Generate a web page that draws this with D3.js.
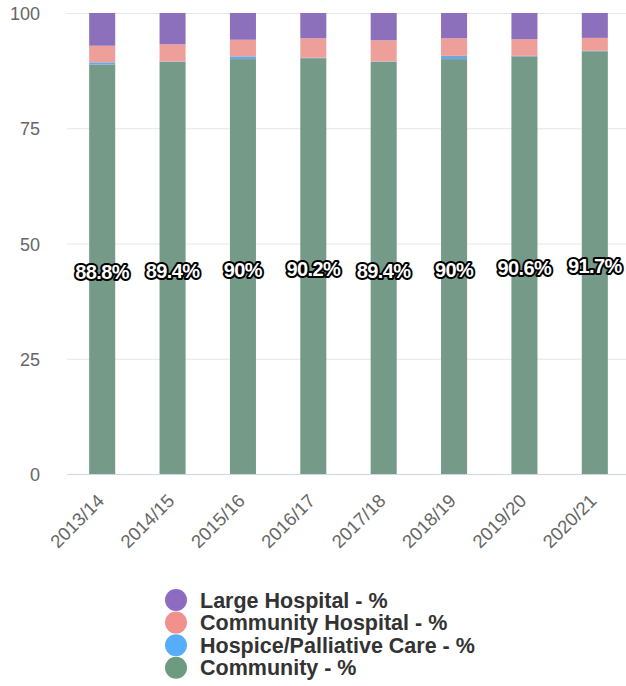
<!DOCTYPE html>
<html><head><meta charset="utf-8">
<script src="https://cdn.jsdelivr.net/npm/d3@7"></script>
<style>body{margin:0;background:#fff;}svg{display:block;font-family:"Liberation Sans",Arial,sans-serif;}</style>
</head><body><svg id="c" width="626" height="686"></svg>
<script>
const categories = ["2013/14","2014/15","2015/16","2016/17","2017/18","2018/19","2019/20","2020/21"];
const community = [88.8,89.4,90,90.2,89.4,90,90.6,91.7];
const hospice = [0.5,0.1,0.6,0.1,0.1,0.7,0.1,0.1];
const communityHospital = [3.6,3.7,3.6,4.2,4.6,3.8,3.6,2.8];
const largeHospital = [7.1,6.8,5.8,5.5,5.9,5.5,5.7,5.4];
const yTicks = [0,25,50,75,100];
const seriesNames = ["Large Hospital - %","Community Hospital - %","Hospice/Palliative Care - %","Community - %"];
const barColors = ["#8d70bb","#ee9f99","#6aa8e0","#759a88"];
const legendColors = ["#8b6cc0","#f0918e","#57adfa","#6d9b7f"];

const svg = d3.select("#c");
const x = d3.scaleBand().domain(categories).range([67,630]).paddingInner(0.63).paddingOuter(0.315);
const y = d3.scaleLinear().domain([0,100]).range([474,13]);

// grid
svg.append("g").selectAll("line").data(yTicks).join("line")
  .attr("x1",67).attr("x2",626).attr("y1",d=>y(d)+0.5).attr("y2",d=>y(d)+0.5)
  .attr("stroke",d=>d===0?"#ccd6eb":"#e6e6e6").attr("stroke-width",1);
svg.append("g").selectAll("text").data(yTicks).join("text")
  .attr("x",40).attr("y",d=>y(d)+7).attr("text-anchor","end")
  .attr("font-size",18).attr("fill","#666").text(d=>d);

const rows = categories.map((c,i)=>({cat:c, community:community[i], hospice:hospice[i], ch:communityHospital[i], lh:largeHospital[i]}));
const keys = ["community","hospice","ch","lh"];
const keyColor = {community:barColors[3], hospice:barColors[2], ch:barColors[1], lh:barColors[0]};
const stack = d3.stack().keys(keys)(rows);
svg.append("g").selectAll("g").data(stack).join("g").attr("fill",d=>keyColor[d.key])
  .selectAll("rect").data(d=>d).join("rect")
  .attr("x",d=>x(d.data.cat)).attr("width",x.bandwidth())
  .attr("y",d=>y(Math.min(d[1],100))).attr("height",d=>y(d[0])-y(Math.min(d[1],100)));

// data labels
svg.append("g").selectAll("text").data(rows).join("text")
  .attr("x",d=>x(d.cat)+x.bandwidth()/2).attr("y",d=>y(d.community/2)+10)
  .attr("text-anchor","middle").attr("font-size",20).attr("font-weight","bold")
  .attr("fill","#fff").attr("stroke","#000").attr("stroke-width",4).attr("stroke-linejoin","round")
  .attr("paint-order","stroke").attr("letter-spacing","-0.6")
  .text(d=>d.community+"%");

// x labels
svg.append("g").selectAll("text").data(categories).join("text")
  .attr("transform",d=>`translate(${x(d)+x.bandwidth()/2+3},${502}) rotate(-45)`)
  .attr("text-anchor","end").attr("font-size",18.5).attr("fill","#666").text(d=>d);

// legend
const lg = svg.append("g").selectAll("g").data(seriesNames).join("g")
  .attr("transform",(d,i)=>`translate(176,${600+i*22.6})`);
lg.append("circle").attr("r",11).attr("fill",(d,i)=>legendColors[i]);
lg.append("text").attr("x",24).attr("y",7.5).attr("font-size",21.5).attr("font-weight","bold").attr("fill","#333").text(d=>d);
</script></body></html>
